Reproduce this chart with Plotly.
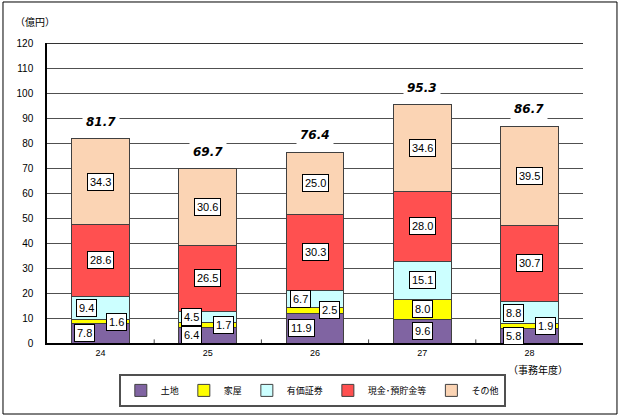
import plotly.graph_objects as go

categories = ["24", "25", "26", "27", "28"]
land = [7.8, 6.4, 11.9, 9.6, 5.8]
house = [1.6, 1.7, 2.5, 8.0, 1.9]
securities = [9.4, 4.5, 6.7, 15.1, 8.8]
cash = [28.6, 26.5, 30.3, 28.0, 30.7]
other = [34.3, 30.6, 25.0, 34.6, 39.5]
totals = [81.7, 69.7, 76.4, 95.3, 86.7]

series_names = ["土地", "家屋", "有価証券", "現金･預貯金等", "その他"]
series_values = [land, house, securities, cash, other]
colors = ["#8064A2", "#FFFF00", "#CCFFFF", "#FF5050", "#FBD4B4"]
# horizontal label shift (px) per series for small segments where labels would overlap
shifts = {
    0: [-16, -16, -14, 0, -16],
    1: [16, 16, 14, 0, 16],
    2: [-14, -16, -15, 0, -16],
}

xidx = list(range(len(categories)))

fig = go.Figure()
for name, vals, col in zip(series_names, series_values, colors):
    fig.add_trace(go.Bar(
        x=xidx, y=vals, name=name,
        marker=dict(color=col, line=dict(color="#404040", width=1)),
        width=0.54,
    ))

annotations = []
for si, vals in enumerate(series_values):
    base = [sum(series_values[k][i] for k in range(si)) for i in range(len(categories))]
    for i, v in enumerate(vals):
        xs = shifts.get(si, [0] * 5)[i]
        annotations.append(dict(
            x=xidx[i], y=base[i] + v / 2, text=f"{v:.1f}",
            showarrow=False, xshift=xs,
            font=dict(family="Liberation Sans Narrow, Liberation Sans, Arial, sans-serif", size=11, color="black"),
            bgcolor="white", bordercolor="black", borderwidth=1, borderpad=2,
        ))

for i, t in enumerate(totals):
    annotations.append(dict(
        x=xidx[i], y=t, text=f"<b><i>{t:.1f}</i></b>", showarrow=False,
        yanchor="bottom", yshift=6,
        font=dict(family="DejaVu Sans, Arial, sans-serif", size=12, color="black"),
        bgcolor="white", borderpad=3,
    ))

annotations.append(dict(
    xref="paper", yref="paper", x=-0.063, y=1.07, text="（億円）",
    showarrow=False, xanchor="left", yanchor="middle",
    font=dict(family="Noto Sans CJK JP", size=10, color="black"),
))
annotations.append(dict(
    xref="paper", yref="paper", x=0.916, y=-0.087, text="（事務年度）",
    showarrow=False, xanchor="center", yanchor="middle",
    font=dict(family="Noto Sans CJK JP", size=10, color="black"),
))

fig.update_layout(
    width=620, height=420,
    margin=dict(l=47, r=37, t=43, b=77, autoexpand=False),
    barmode="stack",
    paper_bgcolor="white", plot_bgcolor="white",
    font=dict(family="Noto Sans CJK JP, Liberation Sans, sans-serif", size=10, color="black"),
    annotations=annotations,
    showlegend=True,
    legend=dict(
        orientation="h", x=0.495, xanchor="center", y=-0.103, yanchor="top",
        bordercolor="#505050", borderwidth=2, bgcolor="white",
        font=dict(size=9, family="Noto Sans CJK JP"),
        traceorder="normal", itemwidth=30,
    ),
    xaxis=dict(
        range=[-0.5, 4.5], tickmode="array", tickvals=xidx, ticktext=categories,
        showline=True, linecolor="black", linewidth=1.5, tickangle=0,
        ticks="", tickfont=dict(size=9, family="Liberation Sans"), showgrid=False,
        zeroline=False,
    ),
    yaxis=dict(
        range=[0, 120], dtick=10, showline=True, linecolor="black", linewidth=1.5,
        showgrid=True, gridcolor="#505050", gridwidth=1, ticks="",
        tickfont=dict(size=10, family="Liberation Sans"), zeroline=False,
        ticklabelstandoff=10,
    ),
    shapes=[
        dict(type="rect", xref="paper", yref="paper",
             x0=-0.0821, x1=1.0634, y0=-0.2367, y1=1.1367,
             line=dict(color="black", width=1), layer="below"),
        dict(type="line", xref="paper", yref="y", x0=0, x1=1, y0=120, y1=120,
             line=dict(color="#333", width=2)),
    ] + [
        dict(type="line", xref="x", yref="paper", x0=b, x1=b, y0=0, y1=0.012,
             line=dict(color="#444", width=1))
        for b in [0.5, 1.5, 2.5, 3.5]
    ],
)

fig.write_html(
    "out.html",
    config={"displayModeBar": False},
    post_script="document.body.style.margin='0px';document.body.style.overflow='hidden';",
)
